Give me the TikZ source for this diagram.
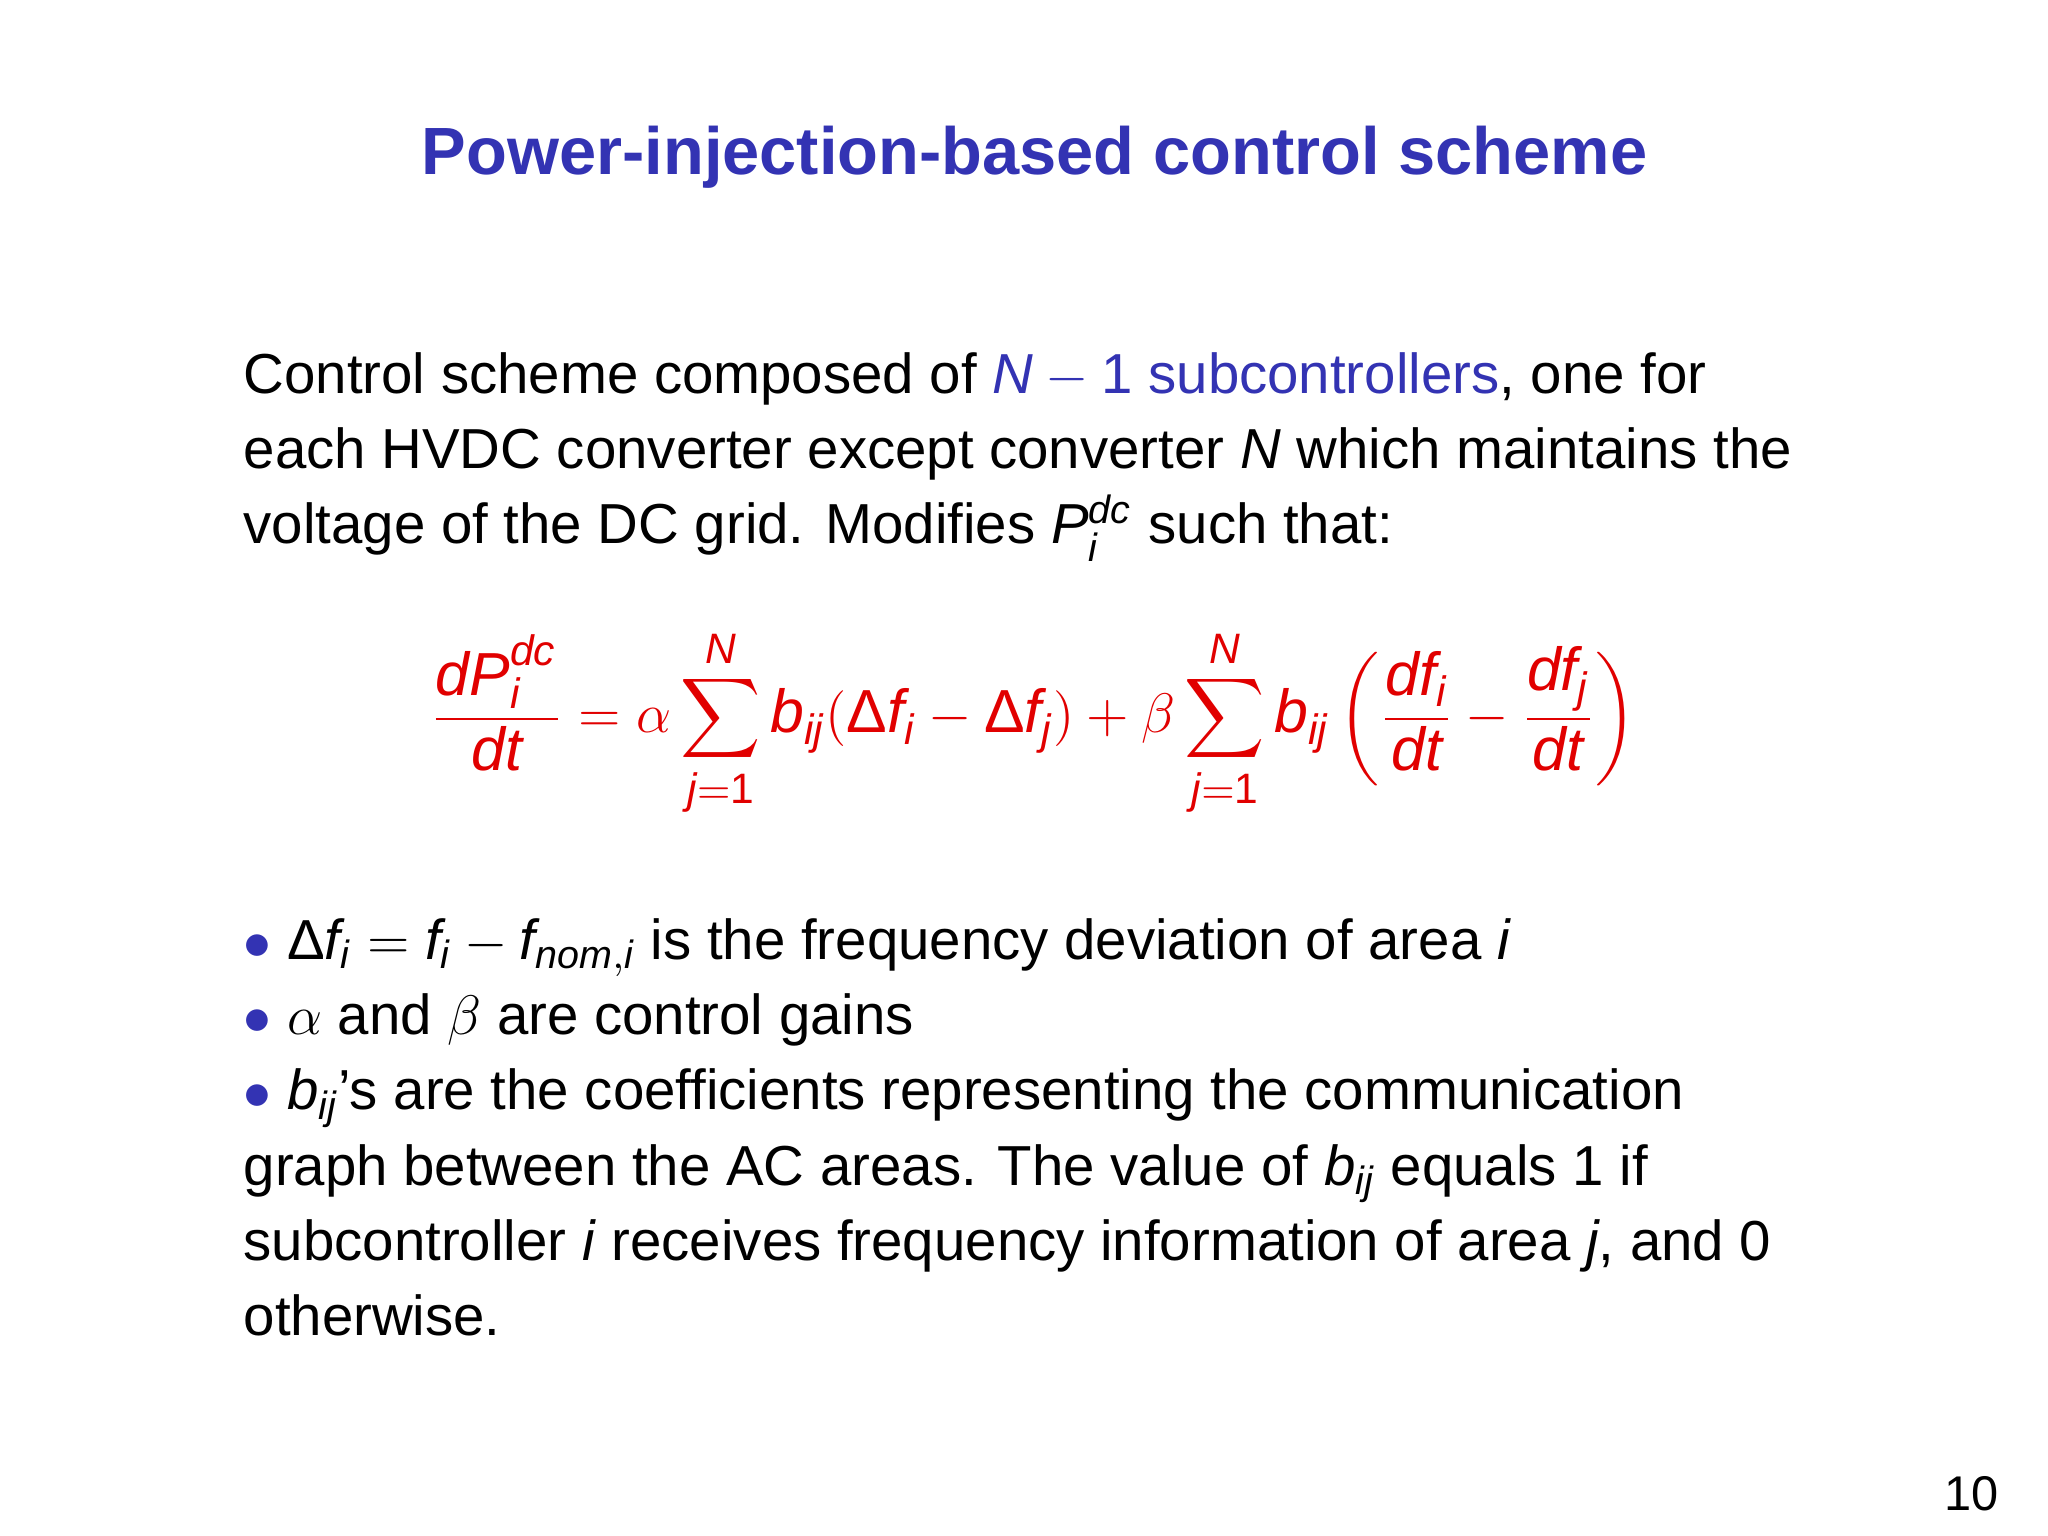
\documentclass[tikz,border=0pt]{standalone}
\usepackage{amsmath}
\usepackage{fontspec}
\setmainfont{Liberation Sans}
\definecolor{tblue}{RGB}{51,51,179}
\definecolor{ered}{RGB}{225,0,0}
\newcommand\mi[1]{\mathit{#1}}
\newcommand\Dl{\textup{Δ}}
\begin{document}
\begin{tikzpicture}[x=0.01cm,y=-0.01cm,
  body/.style={anchor=base west,inner sep=0,font=\fontsize{12.15}{16}\selectfont}]
\useasboundingbox (0,0) rectangle (1552,1164);
\fill[white] (0,0) rectangle (1552,1164);
\node[anchor=base,inner sep=0,text=tblue,font=\fontsize{14.4}{18}\selectfont\bfseries] (title) at (784,132) {Power-injection-based control scheme};
\node[body] (l1) at (184,298) {Control scheme composed of \textcolor{tblue}{$\mi{N}-\mathrm{1}$ subcontrollers}, one for};
\node[body] (l2) at (184,355) {each HVDC converter except converter \textit{N} which maintains the};
\node[body] (l3) at (184,412) {voltage of the DC grid. Modifies $\mi{P}_{\mi{i}}^{\mi{dc}}$ such that:};
\node[inner sep=0,text=ered,font=\fontsize{13.1}{16}\selectfont] (eq) at (783,548) {$\displaystyle
 \frac{\mi{dP}_{\mi{i}}^{\mi{dc}}}{\mi{dt}}=\alpha\sum_{\mi{j}=\mathrm{1}}^{\mi{N}}\mi{b}_{\mi{ij}}(\Dl\mi{f}_{\mi{i}}-\Dl\mi{f}_{\mi{j}})+\beta\sum_{\mi{j}=\mathrm{1}}^{\mi{N}}\mi{b}_{\mi{ij}}\left(\frac{\mi{df}_{\mi{i}}}{\mi{dt}}-\frac{\mi{df}_{\mi{j}}}{\mi{dt}}\right)$};
\node[body] (b1) at (184,727) {\textcolor{tblue}{$\bullet$} $\Dl\mi{f}_{\mi{i}}=\mi{f}_{\mi{i}}-\mi{f}_{\mi{nom},\mi{i}}$ is the frequency deviation of area \textit{i}};
\node[body] (b2) at (184,784) {\textcolor{tblue}{$\bullet$} $\alpha$ and $\beta$ are control gains};
\node[body] (b3) at (184,841) {\textcolor{tblue}{$\bullet$} $\mi{b}_{\mi{ij}}$'s are the coefficients representing the communication};
\node[body] (b4) at (184,898) {graph between the AC areas. The value of $\mi{b}_{\mi{ij}}$ equals 1 if};
\node[body] (b5) at (184,955) {subcontroller \textit{i} receives frequency information of area \textit{j}, and 0};
\node[body] (b6) at (184,1012) {otherwise.};
\node[anchor=base east,inner sep=0,font=\fontsize{10.5}{12}\selectfont] (pg) at (1515,1145) {10};
\end{tikzpicture}
\end{document}
